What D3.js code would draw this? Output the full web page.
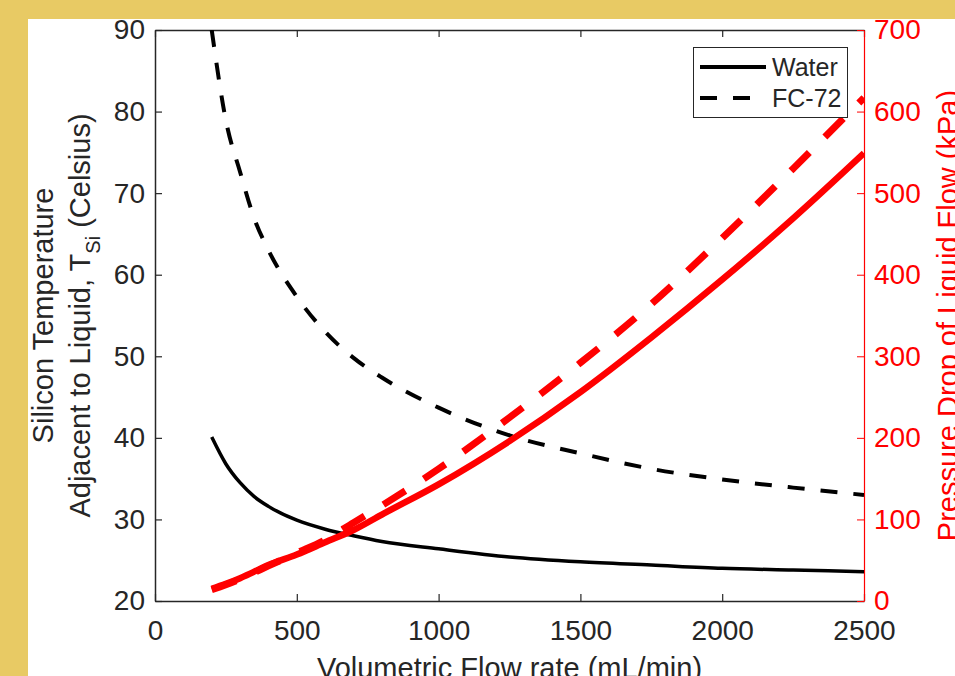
<!DOCTYPE html>
<html>
<head>
<meta charset="utf-8">
<script src="https://cdn.jsdelivr.net/npm/d3@7"></script>
<style>
  html, body { margin: 0; padding: 0; background: #e8ca64; }
  svg { display: block; }
  text { font-family: "Liberation Sans", Arial, sans-serif; }
</style>
</head>
<body>
<div id="chart"></div>
<script>
// values
const flow = [200, 250, 300, 350, 400, 500, 600, 700, 800, 1000, 1250, 1500, 1750, 2000, 2250, 2500];
const tempWater = [40.1, 36.8, 34.5, 32.8, 31.6, 29.9, 28.8, 28.0, 27.3, 26.4, 25.4, 24.8, 24.4, 24.0, 23.8, 23.6];
const tempFC72 = [90, 78.9, 72.6, 66.9, 63.0, 57.3, 53.0, 49.8, 47.4, 43.7, 40.3, 38.1, 36.2, 34.9, 33.9, 33.0];
const pressWater = [15, 21, 28, 36, 44, 57, 72, 87, 106, 143, 196, 256, 323, 394, 469, 549];
const pressFC72 = [14, 20, 27, 35, 43, 59, 75, 96, 117, 162, 225, 292, 364, 445, 530, 617];

const xTicks = [0, 500, 1000, 1500, 2000, 2500];
const leftTicks = [20, 30, 40, 50, 60, 70, 80, 90];
const rightTicks = [0, 100, 200, 300, 400, 500, 600, 700];
const legendNames = ['Water', 'FC-72'];

const width = 955,
  height = 676,
  plot = { left: 155, right: 864, top: 30, bottom: 601 },
  axisColor = '#262626',
  red = '#ff0000',
  tickLen = 7;

const svg = d3.select('div#chart').append('svg')
  .attr('width', width)
  .attr('height', height);

// gold slide with the white figure on it
svg.append('rect')
  .attr('width', width)
  .attr('height', height)
  .attr('fill', '#e8ca64');
svg.append('rect')
  .attr('x', 28)
  .attr('y', 19)
  .attr('width', width - 28)
  .attr('height', height - 19)
  .attr('fill', '#ffffff');

const x = d3.scaleLinear().domain([0, 2500]).range([plot.left, plot.right]);
const yT = d3.scaleLinear().domain([20, 90]).range([plot.bottom, plot.top]);
const yP = d3.scaleLinear().domain([0, 700]).range([plot.bottom, plot.top]);

svg.append('defs').append('clipPath')
  .attr('id', 'clip')
  .append('rect')
  .attr('x', plot.left)
  .attr('y', plot.top)
  .attr('width', plot.right - plot.left)
  .attr('height', plot.bottom - plot.top);

// axes (matlab style, ticks pointing in)
const fmt = d3.format('d');
const bottomAxis = svg.append('g')
  .attr('transform', 'translate(0,' + plot.bottom + ')')
  .call(d3.axisBottom(x).tickValues(xTicks).tickFormat(fmt).tickSizeInner(-tickLen).tickSizeOuter(0).tickPadding(19));
const topAxis = svg.append('g')
  .attr('transform', 'translate(0,' + plot.top + ')')
  .call(d3.axisTop(x).tickValues(xTicks).tickSizeInner(-tickLen).tickSizeOuter(0).tickFormat(''));
const leftAxis = svg.append('g')
  .attr('transform', 'translate(' + plot.left + ',0)')
  .call(d3.axisLeft(yT).tickValues(leftTicks).tickFormat(fmt).tickSizeInner(-tickLen).tickSizeOuter(0).tickPadding(10));
const rightAxis = svg.append('g')
  .attr('transform', 'translate(' + plot.right + ',0)')
  .call(d3.axisRight(yP).tickValues(rightTicks).tickFormat(fmt).tickSizeInner(-tickLen).tickSizeOuter(0).tickPadding(10));

[bottomAxis, topAxis, leftAxis].forEach(g => {
  g.select('.domain').attr('stroke', axisColor).attr('stroke-width', 1.5);
  g.selectAll('.tick line').attr('stroke', axisColor).attr('stroke-width', 1.2);
  g.selectAll('.tick text').attr('fill', axisColor).attr('font-size', 28);
});
rightAxis.select('.domain').attr('stroke', red).attr('stroke-width', 1.2);
rightAxis.selectAll('.tick line').attr('stroke', red);
rightAxis.selectAll('.tick text').attr('fill', red).attr('font-size', 28);

// lines
const lineT = vals => d3.line().x((d, i) => x(flow[i])).y(d => yT(d)).curve(d3.curveMonotoneX)(vals);
const lineP = vals => d3.line().x((d, i) => x(flow[i])).y(d => yP(d)).curve(d3.curveMonotoneX)(vals);

const lines = svg.append('g').attr('clip-path', 'url(#clip)');

lines.append('path')
  .attr('d', lineT(tempWater))
  .attr('fill', 'none')
  .attr('stroke', '#000')
  .attr('stroke-width', 3.5);
lines.append('path')
  .attr('d', lineT(tempFC72))
  .attr('fill', 'none')
  .attr('stroke', '#000')
  .attr('stroke-width', 4)
  .attr('stroke-dasharray', '17,16');
lines.append('path')
  .attr('d', lineP(pressWater))
  .attr('fill', 'none')
  .attr('stroke', red)
  .attr('stroke-width', 6.5);
lines.append('path')
  .attr('d', lineP(pressFC72))
  .attr('fill', 'none')
  .attr('stroke', red)
  .attr('stroke-width', 7)
  .attr('stroke-dasharray', '26,22');

// axis labels
svg.append('text')
  .attr('x', (plot.left + plot.right) / 2)
  .attr('y', 678)
  .attr('text-anchor', 'middle')
  .attr('font-size', 29)
  .attr('fill', axisColor)
  .text('Volumetric Flow rate (mL/min)');

const midY = (plot.top + plot.bottom) / 2;
svg.append('text')
  .attr('transform', 'translate(53,' + midY + ') rotate(-90)')
  .attr('text-anchor', 'middle')
  .attr('font-size', 29)
  .attr('fill', axisColor)
  .text('Silicon Temperature');

const label2 = svg.append('text')
  .attr('transform', 'translate(90,' + midY + ') rotate(-90)')
  .attr('text-anchor', 'middle')
  .attr('font-size', 29)
  .attr('fill', axisColor);
label2.append('tspan').text('Adjacent to Liquid, T');
label2.append('tspan').attr('font-size', 20).attr('dy', 10).text('Si');
label2.append('tspan').attr('dy', -10).text(' (Celsius)');

svg.append('text')
  .attr('transform', 'translate(958,' + midY + ') rotate(-90)')
  .attr('text-anchor', 'middle')
  .attr('font-size', 29)
  .attr('fill', red)
  .text('Pressure Drop of Liquid Flow (kPa)');

// legend
const legend = svg.append('g');
legend.append('rect')
  .attr('x', 693.5)
  .attr('y', 47.5)
  .attr('width', 154)
  .attr('height', 70)
  .attr('fill', '#fff')
  .attr('stroke', axisColor)
  .attr('stroke-width', 1);

legendNames.forEach((name, i) => {
  const ly = 67 + i * 31;
  legend.append('line')
    .attr('x1', 700)
    .attr('x2', 766)
    .attr('y1', ly)
    .attr('y2', ly)
    .attr('stroke', '#000')
    .attr('stroke-width', 4)
    .attr('stroke-dasharray', i === 0 ? null : '17,16');
  legend.append('text')
    .attr('x', 772)
    .attr('y', ly + 9)
    .attr('font-size', 25)
    .attr('fill', axisColor)
    .text(name);
});
</script>
</body>
</html>
